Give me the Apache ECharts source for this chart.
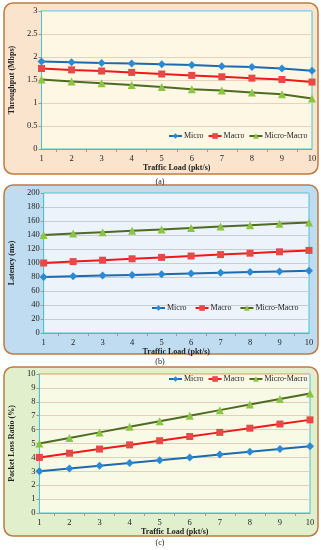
<!DOCTYPE html>
<html><head><meta charset="utf-8">
<script src="https://cdn.jsdelivr.net/npm/echarts@6/dist/echarts.min.js"></script>
<style>html,body{margin:0;padding:0;background:#fff}#c{width:321px;height:550px}</style>
</head><body><div id="c"></div>
<script>
const loads = [1, 2, 3, 4, 5, 6, 7, 8, 9, 10];
const seriesNames = ['Micro', 'Macro', 'Micro-Macro'];
// (a) Throughput (Mbps)
const thrMicro = [1.90, 1.885, 1.87, 1.86, 1.84, 1.825, 1.80, 1.78, 1.75, 1.70];
const thrMacro = [1.75, 1.72, 1.695, 1.665, 1.63, 1.60, 1.57, 1.54, 1.51, 1.455];
const thrMicroMacro = [1.51, 1.47, 1.43, 1.39, 1.35, 1.30, 1.27, 1.23, 1.19, 1.10];
// (b) Latency (ms)
const latMicro = [80, 81, 82, 83, 84, 85, 86, 87, 88, 89];
const latMacro = [100, 102, 104, 106, 108, 110, 112, 114, 116, 118];
const latMicroMacro = [140, 142, 144, 146, 148, 150, 152, 154, 156, 158];
// (c) Packet loss ratio (%)
const plrMicro = [3.0, 3.2, 3.4, 3.6, 3.8, 4.0, 4.2, 4.4, 4.6, 4.8];
const plrMacro = [4.0, 4.3, 4.6, 4.9, 5.2, 5.5, 5.8, 6.1, 6.4, 6.7];
const plrMicroMacro = [5.0, 5.4, 5.8, 6.2, 6.6, 7.0, 7.4, 7.8, 8.2, 8.6];
const captions = ['(a)', '(b)', '(c)'];
const yNames = ['Throughput (Mbps)', 'Latency (ms)', 'Packet Loss Ratio (%)'];
const xName = 'Traffic Load (pkt/s)';

const serif = 'Liberation Serif';
const styles = [
  {symbol: 'diamond', line: '#1d6aae', mark: '#2b8ad6'},
  {symbol: 'rect', line: '#f01818', mark: '#e84848'},
  {symbol: 'triangle', line: '#4d6b22', mark: '#8cc443'}
];
const panels = [
  {grid: {left: 28, top: 11, width: 284, height: 138}, y: {min: 0, max: 3, interval: 0.5}, data: [thrMicro, thrMacro, thrMicroMacro],
   box: {y: 3, h: 171, fill: '#fbe4cd'}, plotBg: '#fdf7e4', split: '#e6d2bd', legend: {left: 168, top: 132, gap: 4}, capY: 182},
  {grid: {left: 33, top: 193, width: 276, height: 140}, y: {min: 0, max: 200, interval: 20}, data: [latMicro, latMacro, latMicroMacro],
   box: {y: 185, h: 169, fill: '#bfdcf1'}, plotBg: '#edf3fb', split: '#c9ccd2', legend: {left: 151, top: 304, gap: 8}, capY: 362},
  {grid: {left: 28, top: 374, width: 282, height: 139}, y: {min: 0, max: 10, interval: 1}, data: [plrMicro, plrMacro, plrMicroMacro],
   box: {y: 367, h: 169, fill: '#e1efcd'}, plotBg: '#f8fae6', split: '#e2d0bd', legend: {left: 168, top: 375, gap: 4}, capY: 543}
];

const option = {
  animation: false,
  backgroundColor: '#ffffff',
  graphic: [],
  grid: [], xAxis: [], yAxis: [], series: [], legend: []
};
panels.forEach((p, i) => {
  option.graphic.push({type: 'rect', z: -10, shape: {x: 4, y: p.box.y, width: 314, height: p.box.h, r: 9},
    style: {fill: p.box.fill, stroke: '#c07a3e', lineWidth: 1.5}});
  option.graphic.push({type: 'text', x: 160, y: p.capY, style: {text: captions[i], font: '8px "Liberation Serif"', fill: '#222', align: 'center', verticalAlign: 'middle'}});
  option.grid.push(Object.assign({show: true, backgroundColor: p.plotBg, borderColor: '#4cc3d1', borderWidth: 1}, p.grid));
  option.xAxis.push({type: 'value', gridIndex: i, min: 1, max: 10, interval: 1,
    name: xName, nameLocation: 'middle', nameGap: 14,
    nameTextStyle: {fontFamily: serif, fontWeight: 'bold', fontSize: 8, color: '#222'},
    axisLine: {show: true, lineStyle: {color: '#9a9a9a'}},
    axisTick: {show: false},
    minorTick: {show: true, splitNumber: 2, length: 3, lineStyle: {color: '#9a9a9a'}},
    axisLabel: {fontFamily: serif, fontSize: 8.5, color: '#222', margin: 5},
    splitLine: {show: false}});
  option.yAxis.push({type: 'value', gridIndex: i, min: p.y.min, max: p.y.max, interval: p.y.interval,
    name: yNames[i], nameLocation: 'middle', nameGap: i === 1 ? 21 : 16, nameRotate: 90,
    nameTextStyle: {fontFamily: serif, fontWeight: 'bold', fontSize: 8, color: '#222'},
    axisLine: {show: true, lineStyle: {color: '#4cc3d1'}},
    axisTick: {show: true, length: 3, lineStyle: {color: '#9a9a9a'}},
    axisLabel: {fontFamily: serif, fontSize: 8.5, color: '#222', margin: 4},
    splitLine: {show: true, lineStyle: {color: p.split, width: 1}}});
  p.data.forEach((vals, k) => {
    const s = styles[k];
    option.series.push({type: 'line', name: seriesNames[k], xAxisIndex: i, yAxisIndex: i,
      data: loads.map((x, j) => [x, vals[j]]),
      symbol: s.symbol, symbolSize: s.symbol === 'rect' ? 7 : 8,
      lineStyle: {color: s.line, width: 2}, itemStyle: {color: s.mark}});
  });
  option.legend.push({left: p.legend.left, top: p.legend.top, width: 200, itemWidth: 13, itemHeight: 7, itemGap: p.legend.gap,
    data: seriesNames.map((n, k) => ({name: n, itemStyle: {color: styles[k].mark}, lineStyle: {color: styles[k].line, width: 2}})),
    textStyle: {fontFamily: serif, fontSize: 8, color: '#222', padding: [0, 0, 0, -3]}, padding: 0});
});
const chart = echarts.init(document.getElementById('c'), null, {renderer: 'canvas'});
chart.setOption(option);
</script></body></html>
